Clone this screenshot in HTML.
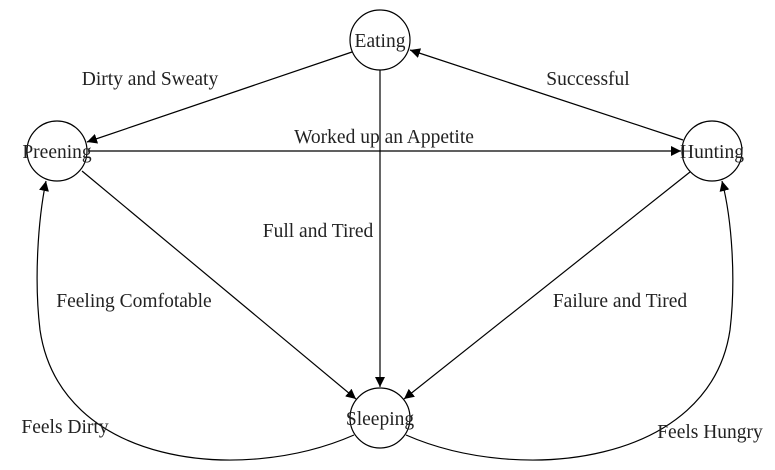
<!DOCTYPE html>
<html><head><style>
html,body{margin:0;padding:0;background:#fff;}
svg{display:block;}
text{font-family:"Liberation Serif",serif;font-size:19.5px;fill:#222;}
</style></head><body>
<svg width="775" height="470" viewBox="0 0 775 470" xmlns="http://www.w3.org/2000/svg">
<defs>
<marker id="a" viewBox="0 0 10 10" refX="10" refY="5" markerWidth="10" markerHeight="10" markerUnits="userSpaceOnUse" orient="auto">
<path d="M0,0 L10,5 L0,10 z" fill="#000"/>
</marker>
</defs>
<g fill="none" stroke="#000" stroke-width="1.2">
<circle cx="380" cy="40" r="30"/>
<circle cx="57" cy="151" r="30"/>
<circle cx="712" cy="151" r="30"/>
<circle cx="380" cy="418" r="30"/>
<line x1="352" y1="52" x2="87" y2="142" marker-end="url(#a)"/>
<line x1="683" y1="140" x2="410" y2="50" marker-end="url(#a)"/>
<line x1="88" y1="151" x2="681" y2="151" marker-end="url(#a)"/>
<line x1="380" y1="70" x2="380" y2="387" marker-end="url(#a)"/>
<line x1="82" y1="171" x2="356" y2="399" marker-end="url(#a)"/>
<line x1="690" y1="172" x2="404" y2="399" marker-end="url(#a)"/>
<path d="M354,435 C240,485 60,465 40,330 C34,280 38,220 46,181" marker-end="url(#a)"/>
<path d="M406,435 C520,485 710,465 730,330 C736,280 732,220 722,181" marker-end="url(#a)"/>
</g>
<g text-anchor="middle">
<text x="380" y="47">Eating</text>
<text x="57" y="158">Preening</text>
<text x="712" y="158">Hunting</text>
<text x="380" y="425">Sleeping</text>
<text x="150" y="85">Dirty and Sweaty</text>
<text x="588" y="85">Successful</text>
<text x="384" y="143">Worked up an Appetite</text>
<text x="318" y="237">Full and Tired</text>
<text x="134" y="307">Feeling Comfotable</text>
<text x="620" y="307">Failure and Tired</text>
<text x="65" y="433">Feels Dirty</text>
<text x="710" y="438">Feels Hungry</text>
</g>
</svg>
</body></html>
